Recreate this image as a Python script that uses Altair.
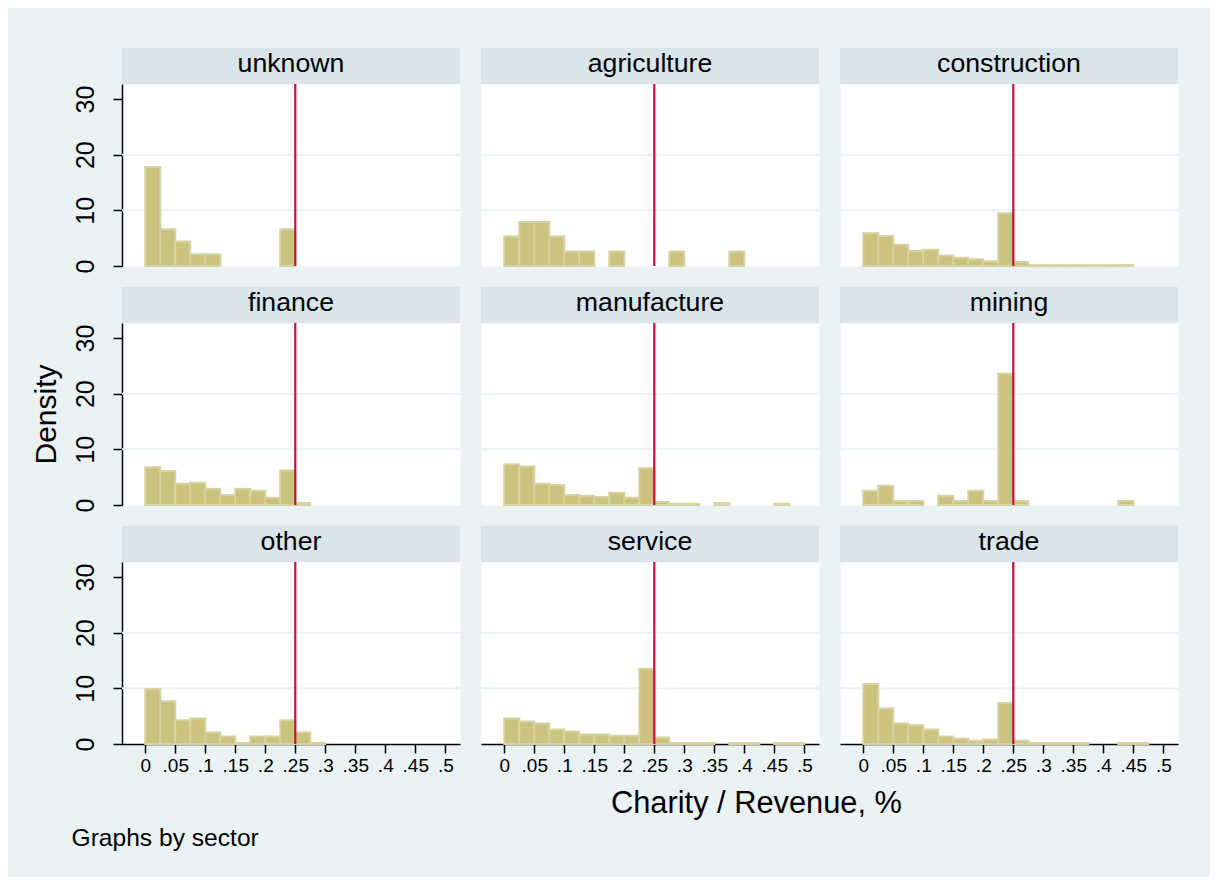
import altair as alt
import pandas as pd

# ---------------- data ----------------
sectors = ["unknown", "agriculture", "construction",
           "finance", "manufacture", "mining",
           "other", "service", "trade"]

bin_starts = [0.0, 0.025, 0.05, 0.075, 0.1, 0.125, 0.15, 0.175, 0.2, 0.225,
              0.25, 0.275, 0.3, 0.325, 0.35, 0.375, 0.4, 0.425, 0.45, 0.475]
bin_ends = [0.025, 0.05, 0.075, 0.1, 0.125, 0.15, 0.175, 0.2, 0.225, 0.25,
            0.275, 0.3, 0.325, 0.35, 0.375, 0.4, 0.425, 0.45, 0.475, 0.5]

dens_unknown = [17.8, 6.6, 4.4, 2.1, 2.1, 0, 0, 0, 0, 6.6,
                0, 0, 0, 0, 0, 0, 0, 0, 0, 0]
dens_agriculture = [5.3, 7.9, 7.9, 5.3, 2.6, 2.6, 0, 2.6, 0, 0,
                    0, 2.6, 0, 0, 0, 2.6, 0, 0, 0, 0]
dens_construction = [5.9, 5.4, 3.8, 2.7, 2.9, 1.9, 1.5, 1.2, 0.85, 9.5,
                     0.7, 0.15, 0.15, 0.15, 0.15, 0.15, 0.15, 0.2, 0, 0]
dens_finance = [6.8, 6.1, 3.8, 4.0, 2.9, 1.8, 2.9, 2.55, 1.3, 6.2,
                0.35, 0, 0, 0, 0, 0, 0, 0, 0, 0]
dens_manufacture = [7.3, 6.9, 3.8, 3.6, 1.8, 1.65, 1.45, 2.2, 1.3, 6.6,
                    0.55, 0.2, 0.2, 0, 0.35, 0, 0, 0, 0.2, 0]
dens_mining = [2.55, 3.45, 0.73, 0.73, 0, 1.65, 0.73, 2.55, 0.73, 23.6,
               0.73, 0, 0, 0, 0, 0, 0, 0.73, 0, 0]
dens_other = [9.9, 7.7, 4.25, 4.6, 2.05, 1.35, 0.2, 1.35, 1.35, 4.25,
              2.05, 0.2, 0, 0, 0, 0, 0, 0, 0, 0]
dens_service = [4.6, 4.05, 3.7, 2.6, 2.25, 1.7, 1.7, 1.5, 1.5, 13.5,
                1.15, 0.18, 0.18, 0.18, 0, 0.18, 0.18, 0, 0.18, 0.18]
dens_trade = [10.8, 6.4, 3.7, 3.35, 2.6, 1.35, 0.95, 0.6, 0.8, 7.35,
              0.6, 0.18, 0.18, 0.18, 0.18, 0, 0, 0.18, 0.18, 0]

densities = [dens_unknown, dens_agriculture, dens_construction,
             dens_finance, dens_manufacture, dens_mining,
             dens_other, dens_service, dens_trade]

x_ticks = [0, 0.05, 0.1, 0.15, 0.2, 0.25, 0.3, 0.35, 0.4, 0.45, 0.5]
y_ticks = [0, 10, 20, 30]
grid_values = [10, 20]
threshold = [0.25]

# ---------------- style ----------------
W, H = 338, 182
STRIP = 36
BG = "#EAF2F3"
STRIP_COL = "#D9E5EA"
BAR_FILL = "#CAC27D"
BAR_STROKE = "#D7D2A2"
RED = "#CC0E3F"
FONT = "Liberation Sans, Arial, sans-serif"

xscale = alt.Scale(domain=[-0.0388, 0.5245], nice=False, zero=False)
yscale = alt.Scale(domain=[0, 32.7], nice=False, zero=False)

LABEL_EXPR = ("datum.value == 0 ? '0' : "
              "replace(format(datum.value, '.2~f'), '0.', '.')")


def x_axis(row, col):
    if row != 2:
        return None
    kw = dict(values=x_ticks, labelExpr=LABEL_EXPR, labelFontSize=19,
              labelPadding=3, labelColor="black", labelFlush=False,
              labelOverlap=False, tickSize=9, tickColor="black",
              tickWidth=1.5, domainColor="black", domainWidth=1.5,
              grid=False, titleColor="black", titleFontWeight="normal")
    if col == 1:
        kw.update(title="Charity / Revenue, %", titleFontSize=30.8,
                  titleX=275, titleY=59, titleAlign="center",
                  titleBaseline="middle")
    elif col == 0:
        kw.update(title="Graphs by sector", titleFontSize=24.6,
                  titleX=-51, titleY=94, titleAlign="left",
                  titleBaseline="middle")
    else:
        kw.update(title="")
    return alt.Axis(**kw)


def y_axis(row, col):
    if col != 0:
        return None
    kw = dict(values=y_ticks, labelAngle=270, labelAlign="center",
              labelBaseline="alphabetic", labelFontSize=25, labelPadding=20,
              labelColor="black", tickSize=9, tickColor="black",
              tickWidth=1.5, domainColor="black", domainWidth=1.5,
              grid=False, titleColor="black", titleFontWeight="normal")
    if row == 1:
        kw.update(title="Density", titleFontSize=30, titleAngle=270,
                  titleX=-61, titleY=91, titleAlign="center",
                  titleBaseline="bottom")
    else:
        kw.update(title="")
    return alt.Axis(**kw)


def panel(idx, name, dens):
    row, col = divmod(idx, 3)
    xa = x_axis(row, col)
    ya = y_axis(row, col)

    df = pd.DataFrame({"start": bin_starts, "end": bin_ends, "density": dens})
    df = df[df["density"] > 0]

    name_df = pd.DataFrame({"sector": [name]})
    grid_df = pd.DataFrame({"g": grid_values})
    thr_df = pd.DataFrame({"t": threshold})

    strip = alt.Chart(name_df).mark_rect(fill=STRIP_COL).encode(
        x=alt.value(0), x2=alt.value(W),
        y=alt.value(-STRIP), y2=alt.value(0))

    label = alt.Chart(name_df).mark_text(
        fontSize=26.7, align="center", baseline="alphabetic",
        color="black", font=FONT).encode(
        text="sector:N", x=alt.value(W / 2), y=alt.value(-12))

    grid = alt.Chart(grid_df).mark_rule(color=BG, strokeWidth=2).encode(
        y=alt.Y("g:Q", scale=yscale, axis=ya))

    bars = alt.Chart(df).mark_rect(
        fill=BAR_FILL, stroke=BAR_STROKE, strokeWidth=2).encode(
        x=alt.X("start:Q", scale=xscale, axis=xa),
        x2="end:Q",
        y=alt.Y("density:Q", scale=yscale, axis=ya),
        y2=alt.datum(0))

    rule = alt.Chart(thr_df).mark_rule(color=RED, strokeWidth=2.2).encode(
        x=alt.X("t:Q", scale=xscale, axis=xa))

    return alt.layer(strip, grid, bars, rule, label).properties(
        width=W, height=H)


panels = [panel(i, s, d) for i, (s, d) in enumerate(zip(sectors, densities))]

chart = alt.concat(
    *panels, columns=3, bounds="flush",
    spacing={"row": 57, "column": 21}
).configure(
    background=BG,
    padding={"left": 22, "top": 39, "right": 30, "bottom": 26},
    font=FONT,
).configure_view(fill="white", stroke="transparent")

chart.save("out.html", embed_options={"renderer": "svg", "actions": False})
